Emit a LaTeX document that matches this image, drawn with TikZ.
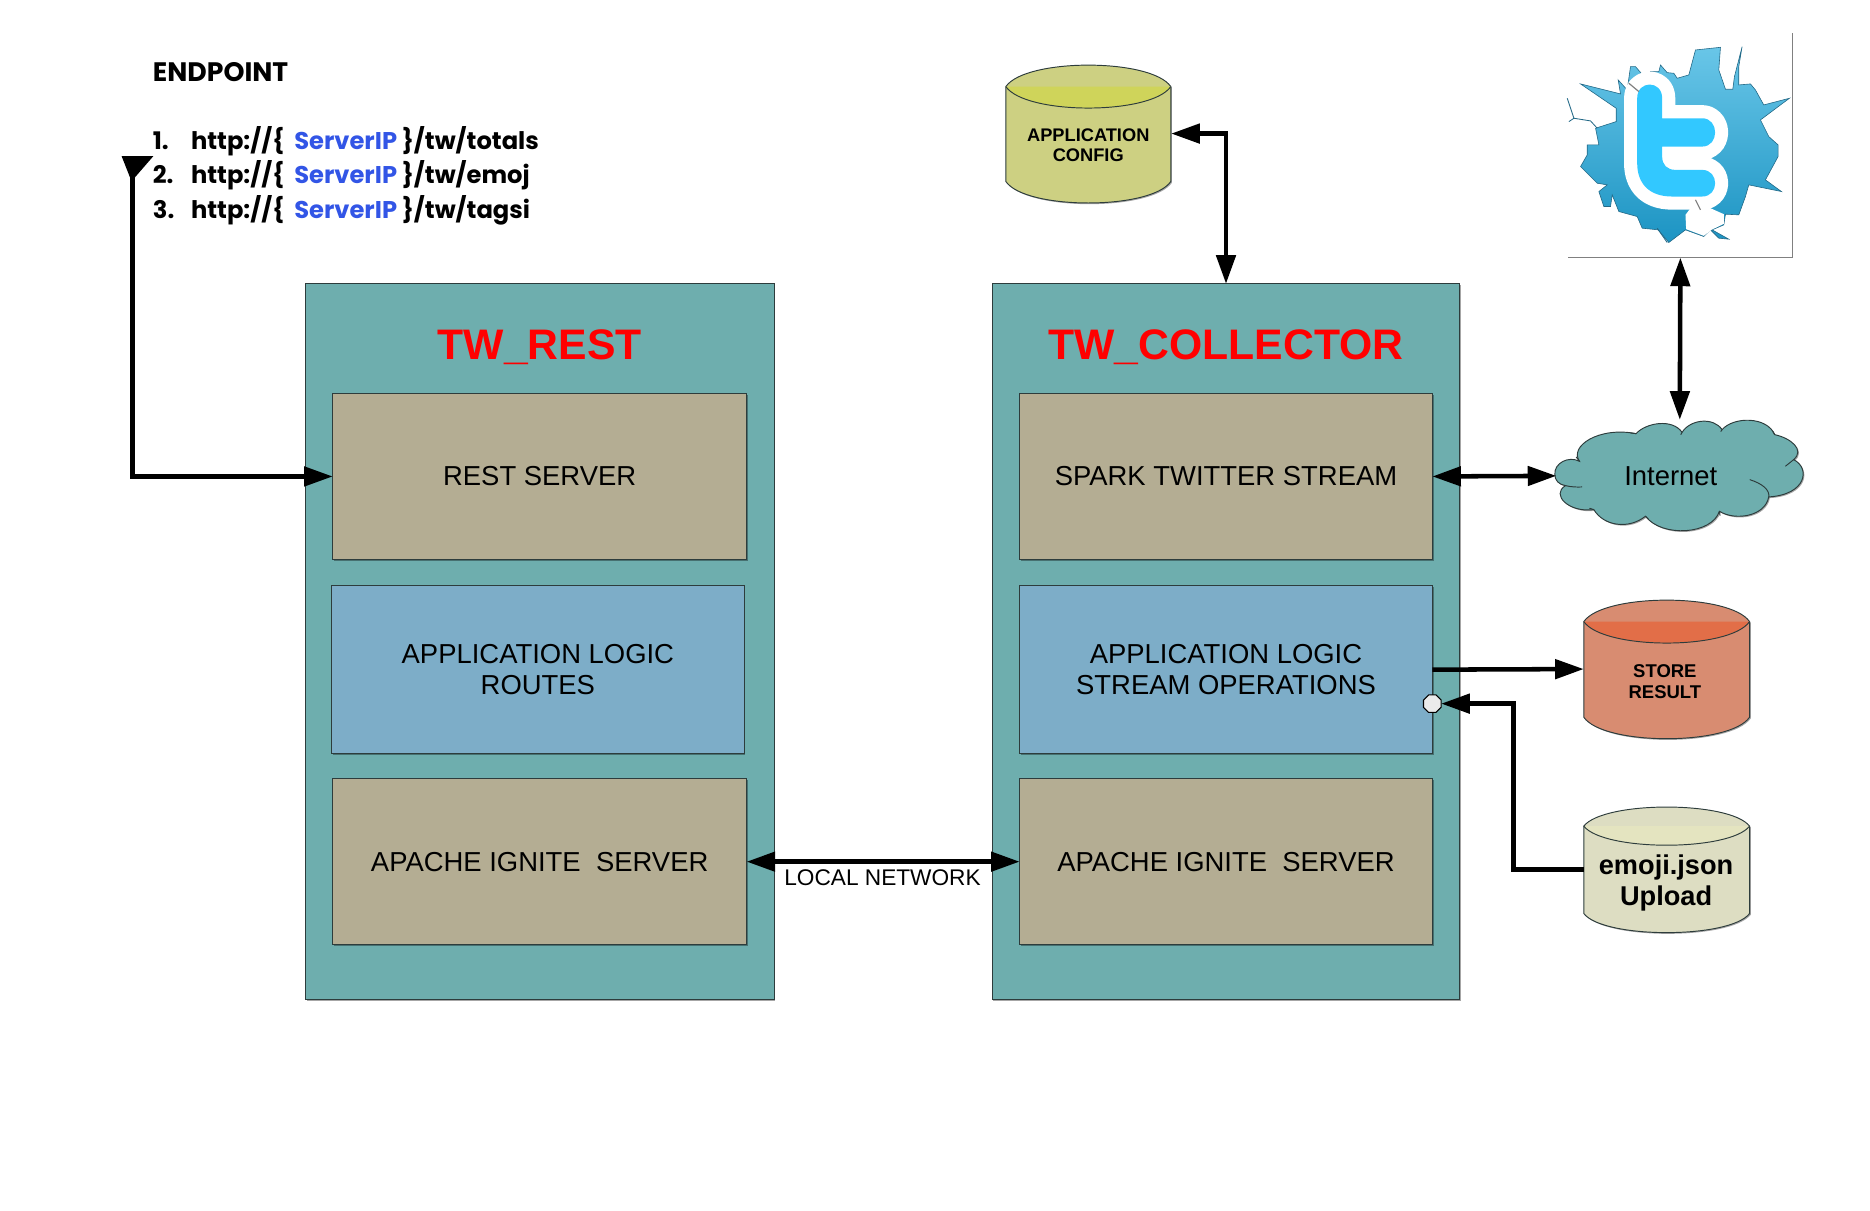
\documentclass[tikz,border=0pt]{standalone}
\usepackage{fontspec}
\setmainfont{Liberation Sans}
\newfontfamily\epfont{Poppins}
\usetikzlibrary{arrows.meta,shapes.geometric,shadows}
\definecolor{tealc}{RGB}{110,174,174}
\definecolor{tanc}{RGB}{180,173,147}
\definecolor{bluec}{RGB}{125,173,200}
\definecolor{edgec}{RGB}{45,60,60}
\definecolor{cfgc}{RGB}{205,208,130}
\definecolor{cfgd}{RGB}{207,212,90}
\definecolor{stoc}{RGB}{216,140,113}
\definecolor{stod}{RGB}{226,110,72}
\definecolor{emoc}{RGB}{221,221,194}
\definecolor{emod}{RGB}{228,228,192}
\definecolor{ipc}{RGB}{50,85,230}
\definecolor{tlight}{RGB}{50,200,255}
\definecolor{bursta}{RGB}{105,198,232}
\definecolor{burstb}{RGB}{28,148,195}
\definecolor{crack}{RGB}{35,105,135}
\newcommand{\sip}{\hspace{4pt}\textcolor{ipc}{ServerIP}\hspace{4pt}}
\tikzset{
  softshadow/.style={drop shadow={shadow xshift=1pt,shadow yshift=-1pt,opacity=.35,fill=black}},
  container/.style={draw=edgec,line width=.8pt,fill=tealc,minimum width=393pt,minimum height=600pt,inner sep=0pt,outer sep=0pt,softshadow},
  tanbox/.style={draw=edgec,line width=.8pt,fill=tanc,minimum width=347pt,minimum height=139pt,inner sep=0pt,outer sep=0pt,align=center,font=\fontsize{23}{26}\selectfont,softshadow},
  bluebox/.style={tanbox,fill=bluec,minimum height=141pt},
  title/.style={font=\fontsize{35.8}{40}\bfseries\selectfont,text=red,inner sep=0pt},
  dbnode/.style={minimum width=139pt,inner sep=0pt,outer sep=0pt},
  dblabel/.style={align=center,inner sep=0pt,font=\bfseries},
  eptext/.style={anchor=west,inner sep=0pt,font=\epfont\bfseries\fontsize{20.3}{23}\selectfont},
  wire/.style={draw=black,line width=3.8pt,line join=miter},
  tipb/.tip={Triangle[length=24pt,width=16pt]},
  port/.style={regular polygon,regular polygon sides=8,draw=black,line width=.9pt,fill=black!8,minimum size=16pt,inner sep=0pt,outer sep=0pt}
}
% #1 left x, #2 right x, #3 rim y, #4 half height of the ellipse, #5 side end y, #6 body colour, #7 top colour
\newcommand{\dbshape}[7]{%
  \pgfmathsetmacro{\ca}{#1+0.12*(#2-#1)}%
  \pgfmathsetmacro{\cb}{#2-0.12*(#2-#1)}%
  \pgfmathsetmacro{\ct}{#3-1.333*#4}%
  \pgfmathsetmacro{\cm}{#3+1.333*#4}%
  \pgfmathsetmacro{\cs}{#5+1.333*#4}%
  \path[fill=#6,draw=edgec,line width=.8pt,softshadow] (#1,#3) .. controls (\ca,\ct) and (\cb,\ct) .. (#2,#3) -- (#2,#5) .. controls (\cb,\cs) and (\ca,\cs) .. (#1,#5) -- cycle;
  \fill[#7] (#1,#3) .. controls (\ca,\cm) and (\cb,\cm) .. (#2,#3) -- cycle;
  \draw[edgec,line width=.8pt] (#1,#3) .. controls (\ca,\cm) and (\cb,\cm) .. (#2,#3);
}
\begin{document}
\begin{tikzpicture}[x=1pt,y=-1pt]
\useasboundingbox (0,0) rectangle (1568,1015);

% containers and inner boxes
\node[container] (rest) at (452.5,538) {};
\node[container,minimum width=392pt] (coll) at (1028,538) {};
\node[title] (resttitle) at (452.5,291) {TW\_REST};
\node[title] (colltitle) at (1028,291) {TW\_COLLECTOR};
\node[tanbox] (srv) at (452.5,399.5) {\raisebox{-1pt}{REST SERVER}};
\node[bluebox,minimum width=346pt] (logicl) at (451,561.5) {APPLICATION LOGIC\\ROUTES};
\node[tanbox] (igl) at (452.5,722.5) {APACHE IGNITE\ \ SERVER};
\node[tanbox,minimum width=346pt] (spark) at (1028,399.5) {\raisebox{-1pt}{SPARK TWITTER STREAM}};
\node[bluebox,minimum width=346pt] (logicr) at (1028,561.5) {APPLICATION LOGIC\\STREAM OPERATIONS};
\node[tanbox,minimum width=346pt] (igr) at (1028,722.5) {APACHE IGNITE\ \ SERVER};

% databases
\dbshape{843.4}{981.7}{72.6}{18}{152.2}{cfgc}{cfgd}
\node[dbnode,minimum height=115pt] (cfg) at (912.5,112) {};
\node[dblabel,font=\bfseries\fontsize{15.3}{17}\selectfont] (cfgtext) at (912.5,121.5) {APPLICATION\\CONFIG};
\dbshape{1328}{1467}{521.2}{18}{601.4}{stoc}{stod}
\node[dbnode,minimum height=115pt] (sto) at (1397.5,561) {};
\node[dblabel,font=\bfseries\fontsize{15.5}{17}\selectfont] (stotext) at (1396,571.5) {STORE\\RESULT};
\dbshape{1328}{1467}{692.7}{16}{766}{emoc}{emod}
\node[dbnode,minimum height=104pt] (emo) at (1397.5,729) {};
\node[dblabel,font=\bfseries\fontsize{22.8}{26}\selectfont] (emotext) at (1397,740) {emoji.json\\Upload};

% cloud
\begin{scope}[shift={(1298.7,343.5)},scale=0.2793]
\path[fill=tealc,draw=edgec,line width=.8pt,softshadow]
 (18,195) .. controls (15,160) and (60,138) .. (92,155)
 .. controls (60,110) and (150,50) .. (262,72)
 .. controls (290,40) and (370,25) .. (400,68)
 .. controls (425,28) and (495,22) .. (520,60)
 .. controls (555,20) and (655,20) .. (678,75)
 .. controls (725,85) and (770,120) .. (735,150)
 .. controls (785,175) and (775,255) .. (660,262)
 .. controls (650,320) and (560,335) .. (512,305)
 .. controls (490,375) and (340,385) .. (290,320)
 .. controls (240,360) and (165,350) .. (135,300)
 .. controls (60,310) and (5,255) .. (50,228)
 .. controls (30,225) and (18,212) .. (18,195) -- cycle;
\draw[edgec,line width=.8pt] (603,210) .. controls (640,222) and (665,240) .. (660,265);
\draw[edgec,line width=.8pt] (735,150) -- (710,170);
\draw[edgec,line width=.8pt] (50,228) .. controls (65,232) and (85,233) .. (100,232);
\draw[edgec,line width=.8pt] (92,155) -- (82,142);
\draw[edgec,line width=.8pt] (262,72) -- (245,70);
\draw[edgec,line width=.8pt] (400,68) -- (396,75);
\draw[edgec,line width=.8pt] (520,60) -- (516,66);
\draw[edgec,line width=.8pt] (678,75) -- (672,65);
\draw[edgec,line width=.8pt] (512,305) -- (514,318);
\draw[edgec,line width=.8pt] (290,320) -- (300,330);
\draw[edgec,line width=.8pt] (135,300) -- (122,296);
\end{scope}
\node[inner sep=0pt,font=\fontsize{23}{26}\selectfont] (nettext) at (1401,399) {Internet};
\coordinate (netw) at (1305,399);
\coordinate (netn) at (1408.5,352);

% twitter picture
\begin{scope}[shift={(1282,16.76)},scale=0.2793]
\shade[top color=bursta,bottom color=burstb,draw=crack,line width=.5pt]
 (155,192) -- (275,222) -- (268,180) -- (295,210) -- (305,140) -- (320,140) -- (350,175) -- (365,155) -- (390,155) -- (395,135) -- (415,158) -- (435,160) -- (445,175) -- (480,165) -- (500,90) -- (575,82) -- (570,150) -- (590,208) -- (612,208) -- (617,170) -- (640,80) -- (630,140) -- (630,195) -- (665,192) -- (680,210) -- (705,255) -- (782,235) -- (695,300) -- (720,350) -- (748,375) -- (748,410) -- (710,480) -- (758,515) -- (660,495) -- (650,530) -- (630,585) -- (590,583) -- (585,615) -- (550,630) -- (600,658) -- (570,655) -- (545,630) -- (525,650) -- (470,630) -- (420,668) -- (388,630) -- (340,625) -- (325,590) -- (270,575) -- (250,525) -- (245,560) -- (225,560) -- (210,515) -- (235,495) -- (205,490) -- (155,440) -- (175,405) -- (175,375) -- (210,375) -- (200,325) -- (262,305) -- (262,265) -- cycle;
\draw[crack,line width=.7pt] (115,235) -- (135,295) -- (120,305);
\draw[crack,line width=.7pt] (135,295) -- (185,303) -- (205,325);
\draw[crack,line width=.7pt] (385,625) -- (415,668);
\def\tshape{(325,235) .. controls (325,180) and (400,180) .. (400,235) -- (400,295) -- (520,295) .. controls (572,295) and (572,380) .. (520,380) -- (400,380) -- (400,410) .. controls (400,435) and (415,450) .. (440,450) -- (520,450) .. controls (572,450) and (572,530) .. (520,530) -- (430,530) .. controls (360,530) and (325,490) .. (325,430) -- cycle}
\draw[white,line width=22pt,line join=round] \tshape;
\fill[white] (470,585) -- (500,545) -- (585,583) -- (585,612) -- (548,630) -- (525,648) -- (472,628) -- cycle;
\fill[tlight] \tshape;
\draw[gray,line width=1pt] (330,215) -- (300,190);
\draw[gray,line width=1pt] (500,540) -- (515,570);
\end{scope}
\node[minimum width=188pt,minimum height=188pt,inner sep=0pt,outer sep=0pt] (tw) at (1409,122) {};
\draw[gray,line width=.9pt] (tw.south west) -- (tw.south east) -- (tw.north east);

% endpoint text
\node[eptext,font=\epfont\bfseries\fontsize{22.4}{24}\selectfont] (ep0) at (128,60.5) {ENDPOINT};
\node[eptext] (ep1) at (128,118) {\makebox[32pt][l]{1.}http://\{ \sip \}/tw/totals};
\node[eptext] (ep2) at (128,147) {\makebox[32pt][l]{2.}http://\{ \sip \}/tw/emoj};
\node[eptext] (ep3) at (128,176) {\makebox[32pt][l]{3.}http://\{ \sip \}/tw/tagsi};

% connectors
\coordinate (epend) at (111,131);
\coordinate (bend) at (1269,590);
\node[port] (jack) at (1201,590) {};
\draw[wire,tipb-] (srv.west) -| (epend);
\fill[black] ([xshift=-9pt]epend) -- ([xshift=17.5pt]epend) -- ([yshift=-18pt,xshift=1.9pt]epend) -- ([yshift=-18pt,xshift=-1.9pt]epend) -- cycle;
\draw[wire,tipb-tipb] (cfg.east) -| (coll.north);
\draw[wire,tipb-tipb] (tw.south) -- (netn);
\draw[wire,tipb-tipb] (spark.east) -- (netw);
\draw[wire,-tipb] (logicr.east) -- (sto.west);
\draw[wire,-tipb] (emo.west) -| (bend) -- (jack.east);
\draw[wire,tipb-tipb] (igl.east) -- (igr.west);
\node[inner sep=0pt,font=\fontsize{19}{21}\selectfont] (lan) at (740,736) {LOCAL NETWORK};
\end{tikzpicture}
\end{document}
